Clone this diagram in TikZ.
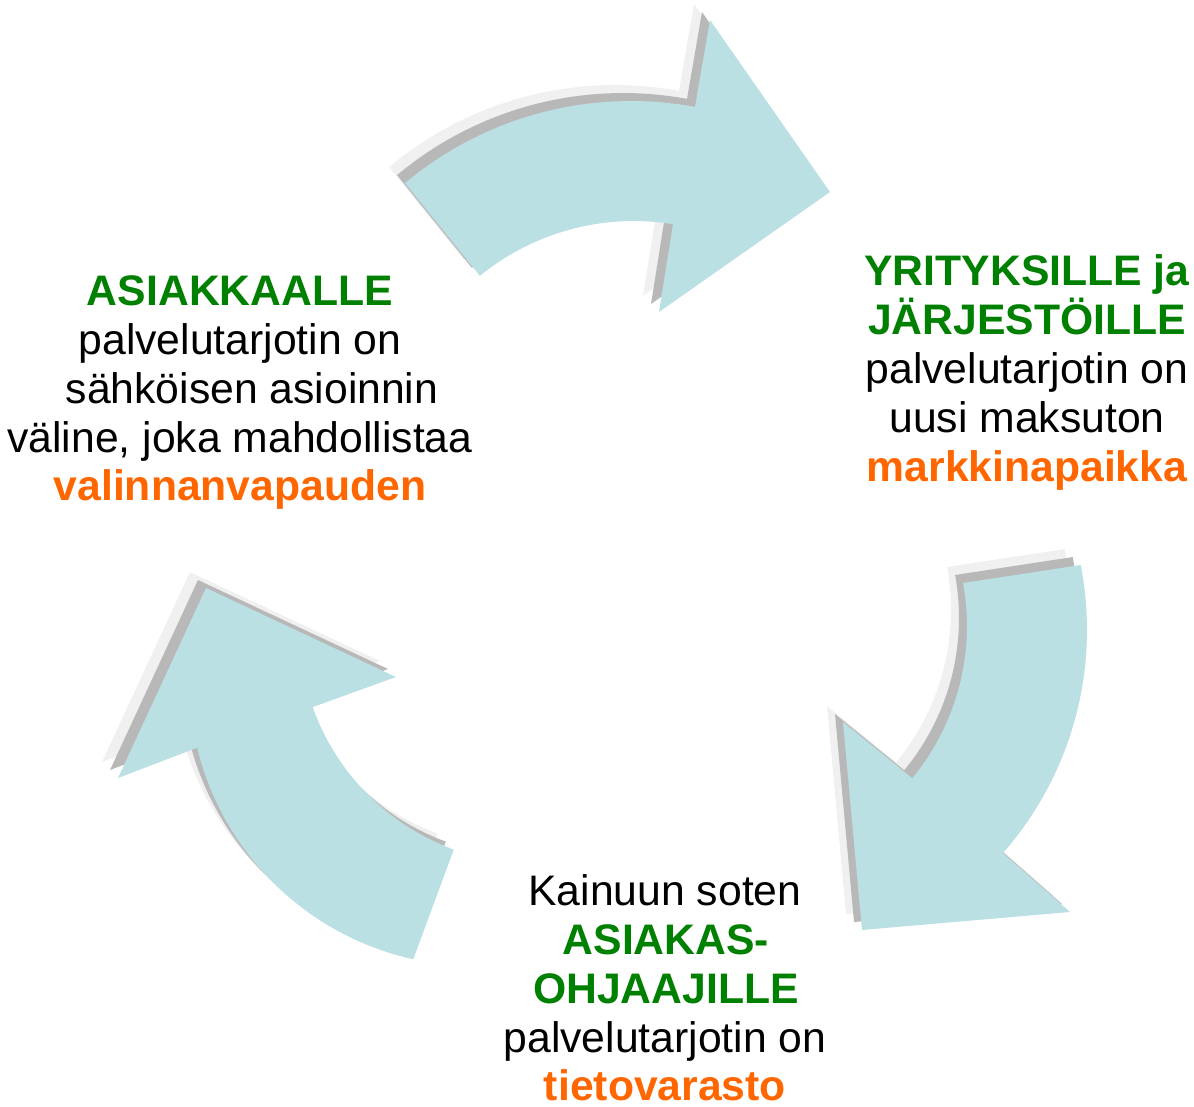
\documentclass[tikz,border=0pt]{standalone}
\usepackage{fontspec}
\setmainfont{Liberation Sans}
\definecolor{arrowfill}{RGB}{187,224,227}
\definecolor{shadowdark}{RGB}{184,184,184}
\definecolor{shadowlight}{RGB}{240,240,240}
\definecolor{txtgreen}{RGB}{0,128,0}
\definecolor{txtorange}{RGB}{255,102,0}
\newcommand\arrowA{(405,183) -- (480,276) -- plot[domain=-129.2:-80.8, samples=40, variable=\t] ({634+244*cos(\t)}, {465+244*sin(\t)}) -- (659,312) -- (830,192) -- (710,20) -- (695,107) -- plot[domain=-79.5:-129.9, samples=40, variable=\t] ({631+352*cos(\t)}, {453+352*sin(\t)}) -- cycle}
\newcommand\arrowB{(963,583) -- (1081,565) -- plot[domain=-11.1:41.3, samples=40, variable=\t] ({749+338*cos(\t)}, {630+338*sin(\t)}) -- (1070,912) -- (862,930) -- (843,722) -- (912,778) -- plot[domain=39.6:-10.4, samples=40, variable=\t] ({728+239*cos(\t)}, {626+239*sin(\t)}) -- cycle}
\newcommand\arrowC{(454,849) -- (413,960) -- plot[domain=102.5:166.3, samples=40, variable=\t] ({475+286*cos(\t)}, {680+286*sin(\t)}) -- (118,778) -- (206,588) -- (396,677) -- (313,707) -- plot[domain=160.4:110.1, samples=40, variable=\t] ({535+236*cos(\t)}, {628+236*sin(\t)}) -- cycle}
\tikzset{
  txt/.style={inner sep=0pt, anchor=base, font=\fontsize{42.7}{49}\selectfont},
  hl/.style={txt, font=\fontsize{42.7}{49}\selectfont\bfseries, text=txtgreen},
  key/.style={txt, font=\fontsize{42.7}{49}\selectfont\bfseries, text=txtorange},
  shl/.style={fill=shadowlight, draw=none},
  shd/.style={fill=shadowdark, draw=none},
  main/.style={fill=arrowfill, draw=none}
}
\begin{document}
\begin{tikzpicture}[x=1pt,y=-1pt]
\useasboundingbox (0,0) rectangle (1194,1106);
% arrows with offset shadows
\begin{scope}[shift={(-16,-16)}]
  \path[shl] \arrowA; \path[shl] \arrowB; \path[shl] \arrowC;
\end{scope}
\begin{scope}[shift={(-8,-8)}]
  \path[shd] \arrowA; \path[shd] \arrowB; \path[shd] \arrowC;
\end{scope}
\path[main] \arrowA; \path[main] \arrowB; \path[main] \arrowC;
% left block
\node[hl]  (l1) at (240,305) {ASIAKKAALLE};
\node[txt] (l2) at (240,354) {palvelutarjotin on};
\node[txt] (l3) at (252,403) {sähköisen asioinnin};
\node[txt] (l4) at (240,452) {väline, joka mahdollistaa};
\node[key] (l5) at (240,500) {valinnanvapauden};
% right block
\node[hl]  (r1) at (1027,285) {YRITYKSILLE ja};
\node[hl]  (r2) at (1027,334) {JÄRJESTÖILLE};
\node[txt] (r3) at (1027,383) {palvelutarjotin on};
\node[txt] (r4) at (1027,432) {uusi maksuton};
\node[key] (r5) at (1027,481) {markkinapaikka};
% bottom block
\node[txt] (b1) at (665,905) {Kainuun soten};
\node[hl]  (b2) at (666,954) {ASIAKAS-};
\node[hl]  (b3) at (666,1003) {OHJAAJILLE};
\node[txt] (b4) at (665,1052) {palvelutarjotin on};
\node[key] (b5) at (665,1100) {tietovarasto};
\end{tikzpicture}
\end{document}
